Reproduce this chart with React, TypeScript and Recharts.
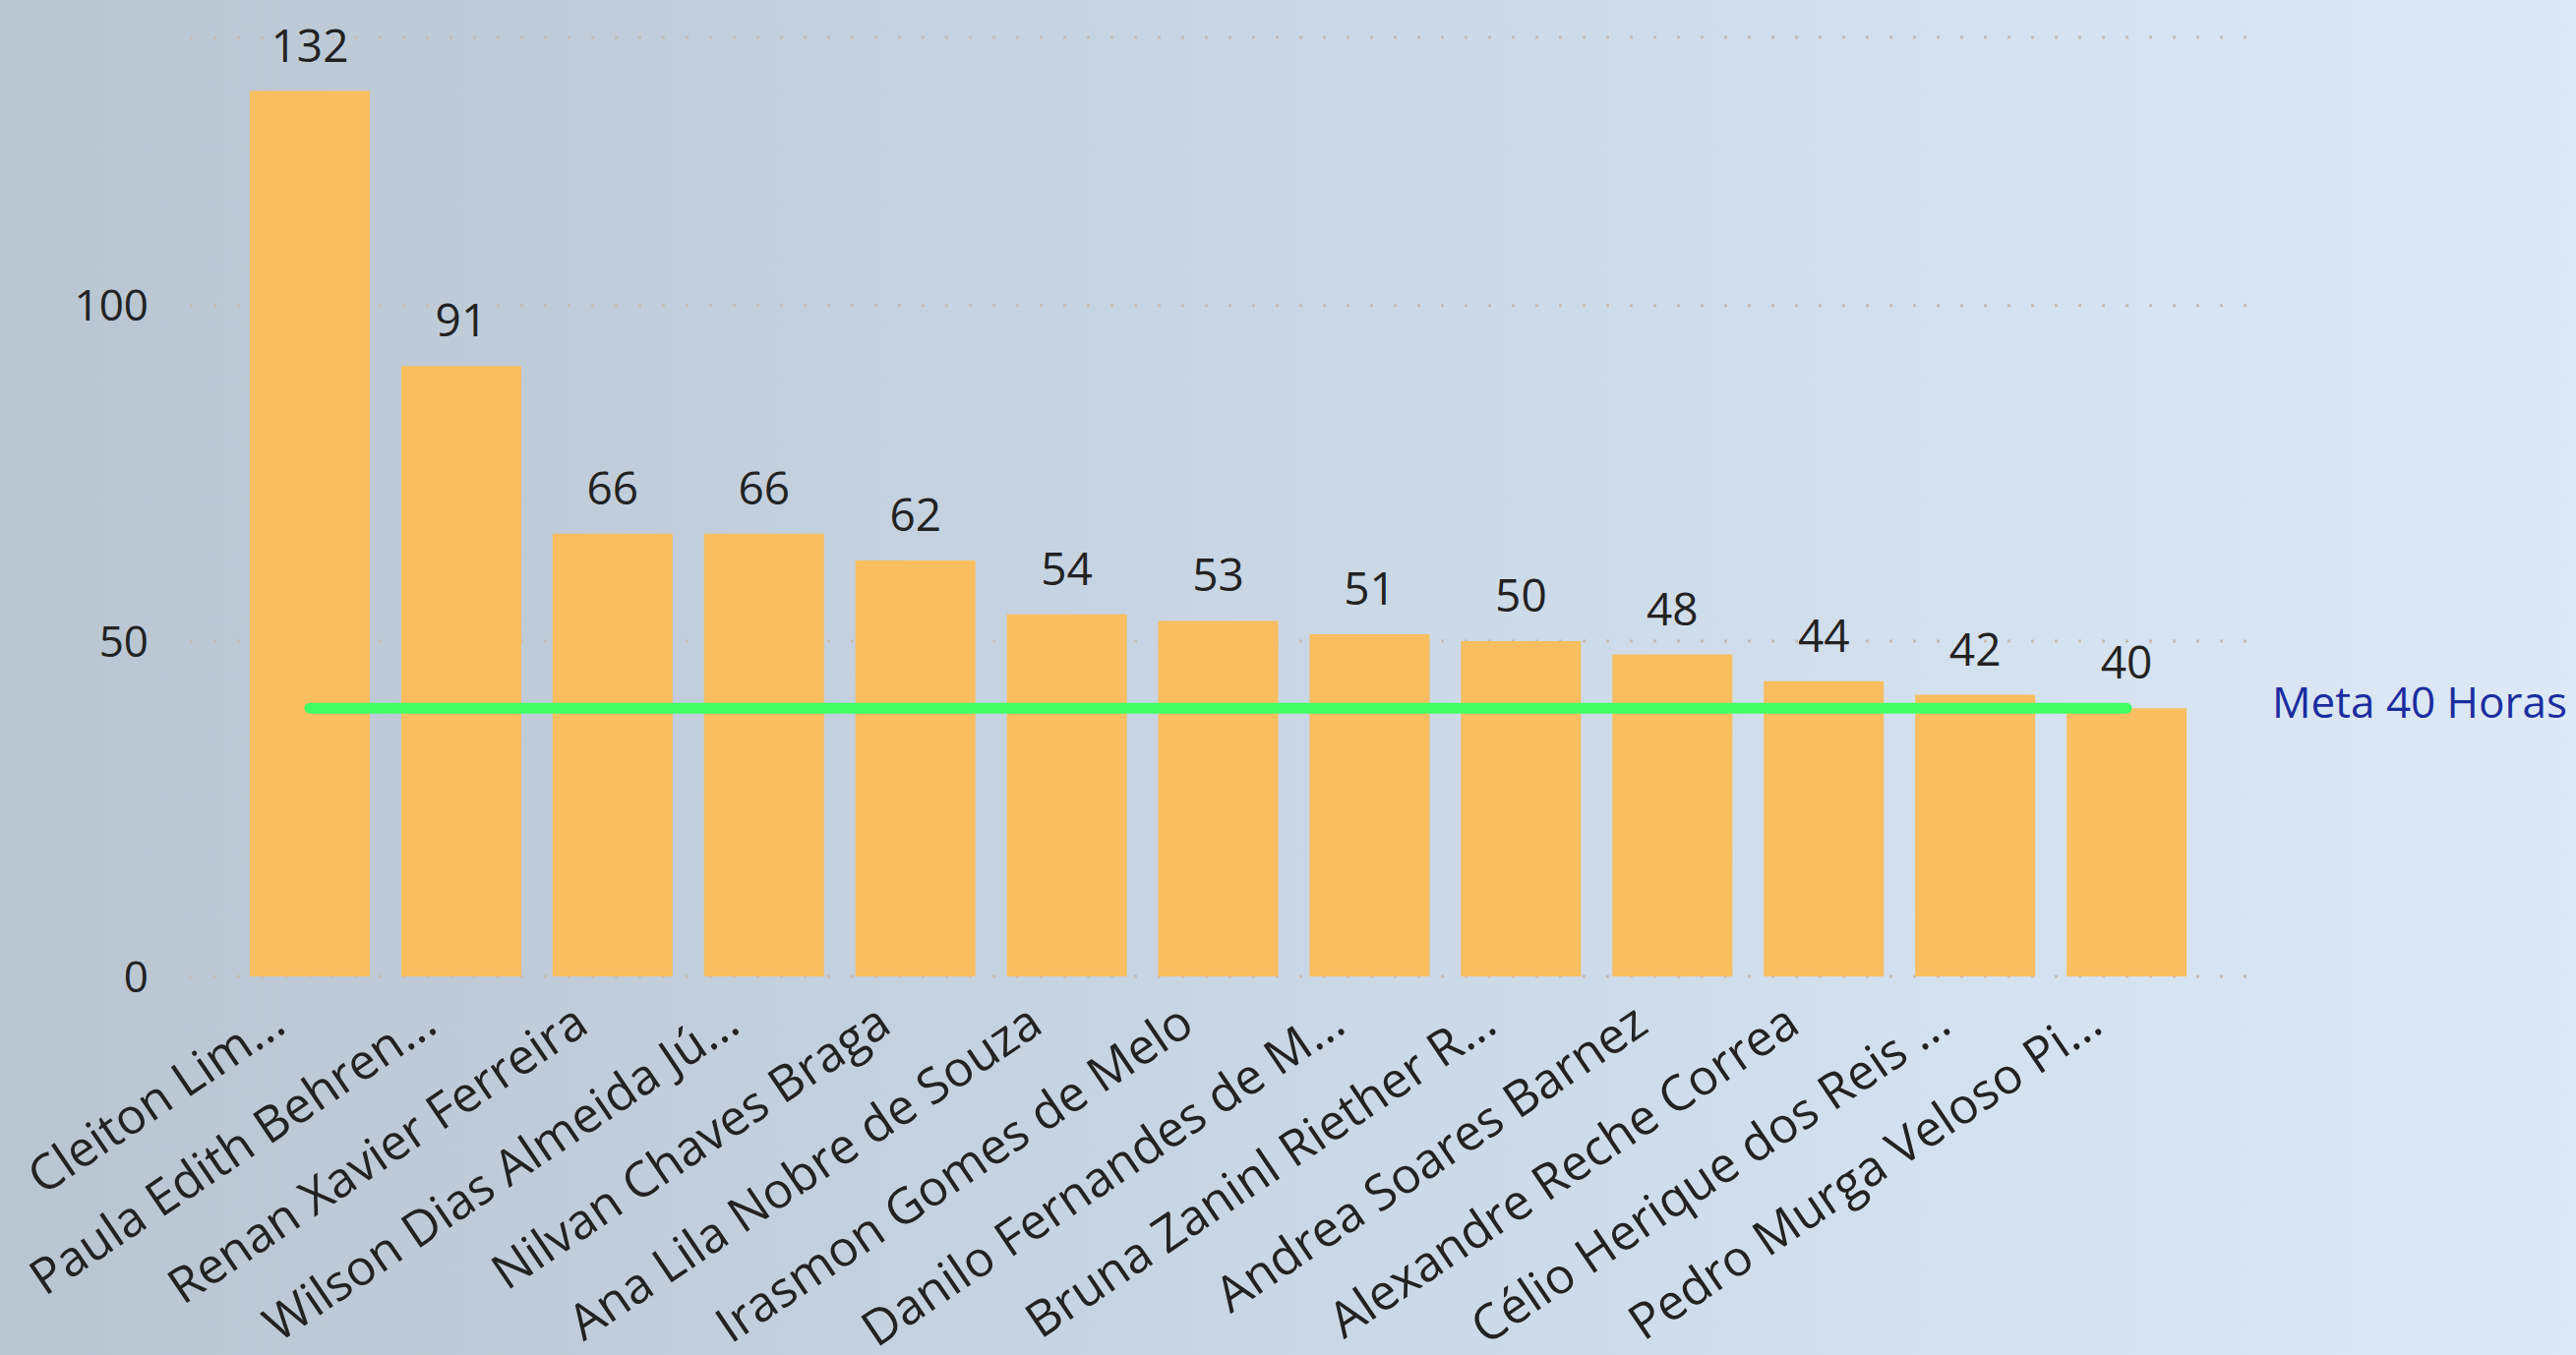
import React from 'react';
import { ComposedChart, Bar, Line, XAxis, YAxis, CartesianGrid, LabelList } from 'recharts';

const categories: string[] = [
  'Cleiton Lim...',
  'Paula Edith Behren...',
  'Renan Xavier Ferreira',
  'Wilson Dias Almeida Jú...',
  'Nilvan Chaves Braga',
  'Ana Lila Nobre de Souza',
  'Irasmon Gomes de Melo',
  'Danilo Fernandes de M...',
  'Bruna Zaninl Riether R...',
  'Andrea Soares Barnez',
  'Alexandre Reche Correa',
  'Célio Herique dos Reis ...',
  'Pedro Murga Veloso Pi...',
];

const horas: number[] = [132, 91, 66, 66, 62, 54, 53, 51, 50, 48, 44, 42, 40];
const meta: number[] = [40, 40, 40, 40, 40, 40, 40, 40, 40, 40, 40, 40, 40];
const yTicks: number[] = [0, 50, 100];
const metaLabel = 'Meta 40 Horas';

const data = categories.map((name, i) => ({ name, horas: horas[i], meta: meta[i] }));

const FONT = "'Open Sans', 'Noto Sans', sans-serif";
const TEXT = '#222222';

const XTick = (props: any) => {
  const { x, y, payload } = props;
  return (
    <g transform={`translate(${x - 22},${y + 55}) rotate(-34)`}>
      <text textAnchor="end" fill={TEXT} fontSize={50} fontFamily={FONT}>
        {payload.value}
      </text>
    </g>
  );
};

const MetaLabel = (props: any) => {
  const { x, y, index } = props;
  if (index !== categories.length - 1) return <g />;
  return (
    <text x={x + 148} y={y + 10} fill="#1B2DA0" fontSize={44} fontFamily={FONT} textAnchor="start">
      {metaLabel}
    </text>
  );
};

export default function App() {
  return (
    <div
      style={{
        position: 'absolute',
        left: 0,
        top: 0,
        width: 2619,
        height: 1378,
        background: 'linear-gradient(90deg, #b9c5d1 0%, #c6d3e0 40%, #d3e0ed 75%, #dde9f6 100%)',
        overflow: 'hidden',
      }}
    >
      <ComposedChart
        width={2619}
        height={1378}
        data={data}
        margin={{ top: 38, right: 335, left: 0, bottom: 0 }}
      >
        <CartesianGrid
          horizontal={true}
          vertical={false}
          stroke="#c6bcb4"
          strokeWidth={3}
          strokeDasharray="3 21"
        />
        <XAxis
          dataKey="name"
          interval={0}
          height={385}
          tickSize={0}
          tickMargin={0}
          axisLine={false}
          tickLine={false}
          padding={{ left: 45, right: 45 }}
          tick={<XTick />}
        />
        <YAxis
          width={193}
          domain={[0, 140]}
          ticks={yTicks}
          axisLine={false}
          tickLine={false}
          tickSize={0}
          tickMargin={42}
          tick={{ fill: TEXT, fontSize: 44, fontFamily: FONT }}
        />
        <Bar dataKey="horas" fill="#F8BE5F" barSize={122} isAnimationActive={false}>
          <LabelList
            dataKey="horas"
            position="top"
            offset={30}
            fill={TEXT}
            fontSize={46}
            fontFamily={FONT}
          />
        </Bar>
        <Line
          type="linear"
          dataKey="meta"
          stroke="#40FF64"
          strokeWidth={11}
          strokeLinecap="round"
          dot={false}
          activeDot={false}
          isAnimationActive={false}
          label={<MetaLabel />}
        />
      </ComposedChart>
    </div>
  );
}
